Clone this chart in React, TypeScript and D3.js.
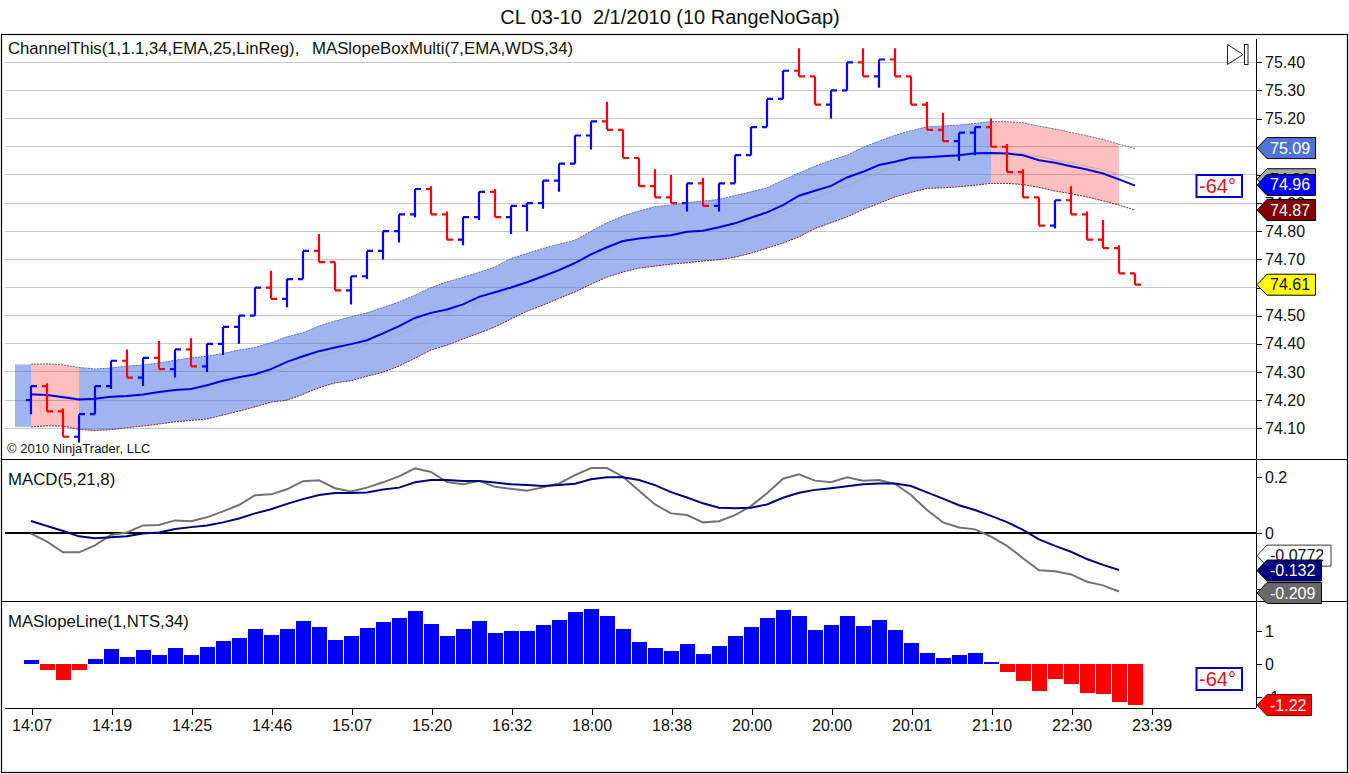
import * as d3 from 'd3';
import React, { useEffect, useRef } from 'react';

const W = 1349;
const H = 774;
const FONT = '"Liberation Sans", Arial, sans-serif';

const timeLabels = ['14:07', '14:19', '14:25', '14:46', '15:07', '15:20', '16:32', '18:00', '18:38', '20:00', '20:00', '20:01', '21:10', '22:30', '23:39'];
const priceTicks = [75.4, 75.3, 75.2, 75.1, 75.0, 74.9, 74.8, 74.7, 74.6, 74.5, 74.4, 74.3, 74.2, 74.1];
const macdTicks = [0.2, 0, -0.2];
const slopeTicks = [1, 0, -1];

const opens = [
  74.20, 74.25, 74.16, 74.07, 74.15, 74.25, 74.34, 74.28, 74.35, 74.31,
  74.38, 74.32, 74.40, 74.46, 74.50, 74.60, 74.56, 74.63, 74.73, 74.69,
  74.59, 74.64, 74.73, 74.80, 74.86, 74.95, 74.86, 74.77, 74.85, 74.94,
  74.85, 74.89, 74.90, 74.98, 75.04, 75.14, 75.19, 75.16, 75.06, 74.96,
  74.92, 74.90, 74.97, 74.89, 74.97, 75.07, 75.17, 75.27, 75.37, 75.35,
  75.25, 75.30, 75.40, 75.35, 75.41, 75.35, 75.25, 75.16, 75.12, 75.15,
  75.17, 75.10, 75.01, 74.92, 74.82, 74.91, 74.86, 74.77, 74.74, 74.65
];
const highs = [
  74.25, 74.26, 74.17, 74.15, 74.25, 74.34, 74.38, 74.35, 74.41, 74.38,
  74.42, 74.40, 74.46, 74.50, 74.60, 74.66, 74.63, 74.73, 74.79, 74.69,
  74.64, 74.73, 74.80, 74.86, 74.95, 74.96, 74.87, 74.85, 74.94, 74.95,
  74.89, 74.90, 74.98, 75.04, 75.14, 75.19, 75.26, 75.16, 75.06, 75.02,
  75.00, 74.97, 74.99, 74.97, 75.07, 75.17, 75.27, 75.37, 75.45, 75.35,
  75.30, 75.40, 75.45, 75.41, 75.45, 75.35, 75.26, 75.22, 75.15, 75.17,
  75.20, 75.11, 75.02, 74.92, 74.91, 74.96, 74.87, 74.84, 74.75, 74.65
];
const lows = [
  74.15, 74.16, 74.07, 74.05, 74.15, 74.24, 74.28, 74.25, 74.31, 74.28,
  74.32, 74.30, 74.36, 74.40, 74.50, 74.56, 74.53, 74.63, 74.69, 74.59,
  74.54, 74.63, 74.70, 74.76, 74.85, 74.86, 74.77, 74.75, 74.84, 74.85,
  74.79, 74.80, 74.88, 74.94, 75.04, 75.09, 75.16, 75.06, 74.96, 74.92,
  74.90, 74.87, 74.89, 74.87, 74.97, 75.07, 75.17, 75.27, 75.35, 75.25,
  75.20, 75.30, 75.35, 75.31, 75.35, 75.25, 75.16, 75.12, 75.05, 75.07,
  75.10, 75.01, 74.92, 74.82, 74.81, 74.86, 74.77, 74.74, 74.65, 74.61
];
const closes = [
  74.25, 74.16, 74.07, 74.15, 74.25, 74.34, 74.28, 74.35, 74.31, 74.38,
  74.32, 74.40, 74.46, 74.50, 74.60, 74.56, 74.63, 74.73, 74.69, 74.59,
  74.64, 74.73, 74.80, 74.86, 74.95, 74.86, 74.77, 74.85, 74.94, 74.85,
  74.89, 74.90, 74.98, 75.04, 75.14, 75.19, 75.16, 75.06, 74.96, 74.92,
  74.90, 74.97, 74.89, 74.97, 75.07, 75.17, 75.27, 75.37, 75.35, 75.25,
  75.30, 75.40, 75.35, 75.41, 75.35, 75.25, 75.16, 75.12, 75.15, 75.17,
  75.10, 75.01, 74.92, 74.82, 74.91, 74.86, 74.77, 74.74, 74.65, 74.61
];

// EMA line and channel edges
const midLine = [
  74.221, 74.218, 74.21, 74.202, 74.205, 74.212, 74.215, 74.22, 74.229, 74.236,
  74.24, 74.253, 74.269, 74.281, 74.292, 74.31, 74.336, 74.356, 74.374, 74.387,
  74.399, 74.413, 74.437, 74.463, 74.492, 74.51, 74.522, 74.54, 74.567, 74.583,
  74.60, 74.619, 74.64, 74.662, 74.687, 74.718, 74.743, 74.765, 74.774, 74.78,
  74.786, 74.798, 74.802, 74.814, 74.828, 74.848, 74.867, 74.893, 74.926, 74.944,
  74.961, 74.991, 75.011, 75.035, 75.047, 75.061, 75.063, 75.066, 75.07, 75.077,
  75.078, 75.076, 75.07, 75.052, 75.043, 75.031, 75.019, 75.005, 74.984, 74.962
];
const upperBand = [
  74.327, 74.329, 74.325, 74.316, 74.311, 74.314, 74.321, 74.325, 74.332, 74.342,
  74.35, 74.356, 74.366, 74.378, 74.387, 74.404, 74.425, 74.439, 74.463, 74.481,
  74.496, 74.51, 74.529, 74.549, 74.573, 74.6, 74.62, 74.636, 74.654, 74.673,
  74.703, 74.721, 74.739, 74.754, 74.768, 74.80, 74.83, 74.854, 74.872, 74.887,
  74.893, 74.901, 74.907, 74.913, 74.927, 74.94, 74.954, 74.981, 75.007, 75.031,
  75.052, 75.07, 75.098, 75.12, 75.141, 75.157, 75.171, 75.174, 75.177, 75.183,
  75.189, 75.189, 75.185, 75.173, 75.163, 75.151, 75.139, 75.126, 75.109, 75.094
];
const lowerBand = [
  74.105, 74.109, 74.108, 74.096, 74.092, 74.095, 74.102, 74.108, 74.115, 74.123,
  74.128, 74.133, 74.147, 74.161, 74.176, 74.193, 74.20, 74.221, 74.244, 74.261,
  74.269, 74.285, 74.299, 74.321, 74.349, 74.378, 74.395, 74.417, 74.438, 74.46,
  74.488, 74.516, 74.537, 74.562, 74.584, 74.612, 74.637, 74.655, 74.669, 74.676,
  74.683, 74.688, 74.694, 74.699, 74.708, 74.722, 74.74, 74.758, 74.78, 74.81,
  74.83, 74.851, 74.877, 74.899, 74.922, 74.938, 74.952, 74.954, 74.958, 74.963,
  74.97, 74.97, 74.966, 74.956, 74.943, 74.933, 74.922, 74.908, 74.893, 74.875
];

const macdLine = [
  0.043, 0.025, 0.007, -0.012, -0.019, -0.015, -0.012, -0.002, 0.002, 0.014,
  0.021, 0.027, 0.038, 0.052, 0.07, 0.085, 0.104, 0.121, 0.136, 0.143,
  0.143, 0.145, 0.155, 0.162, 0.181, 0.189, 0.189, 0.186, 0.186, 0.18,
  0.174, 0.171, 0.168, 0.171, 0.176, 0.192, 0.199, 0.199, 0.189, 0.171,
  0.146, 0.127, 0.106, 0.09, 0.088, 0.09, 0.102, 0.126, 0.144, 0.154,
  0.16, 0.167, 0.174, 0.177, 0.177, 0.168, 0.145, 0.123, 0.099, 0.082,
  0.061, 0.039, 0.011, -0.023, -0.046, -0.067, -0.093, -0.114, -0.132
];
const macdGray = [
  -0.002, -0.031, -0.069, -0.069, -0.044, -0.007, 0.002, 0.027, 0.029, 0.045,
  0.042, 0.056, 0.077, 0.1, 0.135, 0.138, 0.156, 0.185, 0.188, 0.16,
  0.148, 0.162, 0.181, 0.202, 0.231, 0.218, 0.182, 0.174, 0.186, 0.165,
  0.158, 0.151, 0.163, 0.177, 0.207, 0.232, 0.232, 0.201, 0.151, 0.102,
  0.07, 0.064, 0.038, 0.042, 0.064, 0.096, 0.142, 0.194, 0.21, 0.187,
  0.181, 0.199, 0.187, 0.189, 0.175, 0.136, 0.082, 0.038, 0.02, 0.013,
  -0.013, -0.046, -0.09, -0.133, -0.137, -0.148, -0.174, -0.187, -0.209
];

const slopeValues = [
  0.12, -0.18, -0.48, -0.18, 0.15, 0.45, 0.21, 0.42, 0.27, 0.48,
  0.27, 0.51, 0.69, 0.78, 1.05, 0.87, 1.05, 1.29, 1.11, 0.72,
  0.84, 1.08, 1.26, 1.38, 1.59, 1.2, 0.84, 1.05, 1.29, 0.93,
  0.99, 0.99, 1.17, 1.32, 1.56, 1.65, 1.44, 1.05, 0.66, 0.48,
  0.39, 0.6, 0.3, 0.54, 0.84, 1.11, 1.38, 1.62, 1.44, 1.02,
  1.17, 1.44, 1.14, 1.32, 1.02, 0.63, 0.33, 0.18, 0.27, 0.33,
  0.06, -0.24, -0.51, -0.81, -0.45, -0.6, -0.87, -0.9, -1.14, -1.22
];

const App: React.FC = () => {
  const svgRef = useRef<SVGSVGElement>(null);

  useEffect(() => {
    const svg = d3.select(svgRef.current);
    svg.selectAll('*').remove();
    svg.attr('font-family', FONT);

    const AXIS_X = 1256;
    const x = d3.scaleLinear().domain([0, 69]).range([31, 1135]);
    const yPrice = d3.scaleLinear().domain([74.1, 75.4]).range([428.3, 62.3]);
    const yMacd = d3.scaleLinear().domain([-0.2, 0.2]).range([589, 477]);
    const ySlope = d3.scaleLinear().domain([-1, 1]).range([697.3, 631]);

    const text = (tx: number, ty: number, s: string, size = 16, anchor = 'start', fill = '#111') =>
      svg.append('text').attr('x', tx).attr('y', ty).attr('font-size', size)
        .attr('text-anchor', anchor).attr('fill', fill).style('white-space', 'pre').text(s);

    // price grid
    svg.append('g').selectAll('line').data(priceTicks).join('line')
      .attr('x1', 5).attr('x2', AXIS_X)
      .attr('y1', (d) => yPrice(d)).attr('y2', (d) => yPrice(d))
      .attr('stroke', '#c8c8c8').attr('shape-rendering', 'crispEdges');

    // MASlopeBoxMulti fill, one piece per bar ending on that bar
    const boxArea = d3.area<number>()
      .x((i) => x(i))
      .y0((i) => yPrice(lowerBand[Math.max(i, 0)]))
      .y1((i) => yPrice(upperBand[Math.max(i, 0)]));
    svg.append('g').selectAll('path').data(d3.range(0, 69)).join('path')
      .attr('d', (i) => boxArea([i - 1, i]))
      .attr('fill', (i) => (slopeValues[i] < 0 ? '#ff0000' : '#4169e1'))
      .attr('fill-opacity', (i) => (slopeValues[i] < 0 ? 0.25 : 0.5));

    const priceLine = d3.line<number>().x((_d, i) => x(i)).y((d) => yPrice(d));
    const channelCentre = upperBand.map((u, i) => (u + lowerBand[i]) / 2);
    svg.append('path').attr('d', priceLine(channelCentre)).attr('fill', 'none')
      .attr('stroke', '#a8a8b4').attr('stroke-width', 1).attr('stroke-opacity', 0.75);
    svg.append('path').attr('d', priceLine(upperBand)).attr('fill', 'none')
      .attr('stroke', '#5c6fb4').attr('stroke-width', 1).attr('stroke-dasharray', '2,1');
    svg.append('path').attr('d', priceLine(lowerBand)).attr('fill', 'none')
      .attr('stroke', '#8a2030').attr('stroke-width', 1).attr('stroke-dasharray', '2,1');
    svg.append('path').attr('d', priceLine(midLine)).attr('fill', 'none')
      .attr('stroke', '#0000e6').attr('stroke-width', 2);

    // OHLC bars
    const bars = svg.append('g').selectAll('path').data(d3.range(opens.length)).join('path')
      .attr('fill', 'none').attr('stroke-width', 2.2)
      .attr('stroke', (i) => (closes[i] >= opens[i] ? '#0000ff' : '#ff0000'));
    bars.attr('d', (i) => {
      const p = d3.path();
      const bx = x(i);
      p.moveTo(bx, yPrice(highs[i]));
      p.lineTo(bx, yPrice(lows[i]));
      p.moveTo(bx - 5, yPrice(opens[i]));
      p.lineTo(bx, yPrice(opens[i]));
      p.moveTo(bx, yPrice(closes[i]));
      p.lineTo(bx + 6, yPrice(closes[i]));
      return p.toString();
    });

    // MACD panel
    svg.append('line').attr('x1', 5).attr('x2', AXIS_X).attr('y1', yMacd(0)).attr('y2', yMacd(0))
      .attr('stroke', '#000').attr('stroke-width', 2);
    const macdPath = d3.line<number>().x((_d, i) => x(i)).y((d) => yMacd(d));
    svg.append('path').attr('d', macdPath(macdGray)).attr('fill', 'none')
      .attr('stroke', '#737373').attr('stroke-width', 2);
    svg.append('path').attr('d', macdPath(macdLine)).attr('fill', 'none')
      .attr('stroke', '#000080').attr('stroke-width', 2);

    // slope histogram
    svg.append('g').selectAll('rect').data(slopeValues).join('rect')
      .attr('x', (_d, i) => x(i) - 7)
      .attr('width', 15)
      .attr('y', (d) => Math.min(ySlope(d), ySlope(0)))
      .attr('height', (d) => Math.abs(ySlope(d) - ySlope(0)))
      .attr('fill', (d) => (d < 0 ? '#ff0000' : '#0000ff'))
      .attr('shape-rendering', 'crispEdges');

    // frame and panel dividers
    svg.append('rect').attr('x', 1.5).attr('y', 34.5).attr('width', 1346).attr('height', 738)
      .attr('fill', 'none').attr('stroke', '#000').attr('stroke-width', 1.2);
    [459.5, 601.5].forEach((ly) => {
      svg.append('line').attr('x1', 1).attr('x2', 1348).attr('y1', ly).attr('y2', ly).attr('stroke', '#000');
    });
    svg.append('line').attr('x1', AXIS_X + 0.5).attr('x2', AXIS_X + 0.5).attr('y1', 39).attr('y2', 708)
      .attr('stroke', '#000');

    // value axes
    const styleAxis = (g: d3.Selection<SVGGElement, unknown, null, undefined>) => {
      g.attr('font-family', FONT).attr('font-size', 16);
      g.select('.domain').remove();
      g.selectAll('.tick line').attr('stroke', '#000').attr('shape-rendering', 'crispEdges');
      g.selectAll('.tick text').attr('fill', '#111');
    };
    svg.append('g').attr('transform', `translate(${AXIS_X},0)`)
      .call(d3.axisRight(yPrice).tickValues(priceTicks).tickSize(6).tickPadding(3).tickFormat((d) => d3.format('.2f')(d as number)))
      .call(styleAxis);
    svg.append('g').attr('transform', `translate(${AXIS_X},0)`)
      .call(d3.axisRight(yMacd).tickValues(macdTicks).tickSize(6).tickPadding(3).tickFormat((d) => String(d)))
      .call(styleAxis);
    svg.append('g').attr('transform', `translate(${AXIS_X},0)`)
      .call(d3.axisRight(ySlope).tickValues(slopeTicks).tickSize(6).tickPadding(3).tickFormat((d) => String(d)))
      .call(styleAxis);

    // time axis
    const xTime = d3.scalePoint<string>().domain(timeLabels.map((_d, i) => String(i))).range([x(0) + 0.5, x(70) + 0.5]);
    const timeAxis = d3.axisBottom(xTime).tickSize(7).tickPadding(5)
      .tickFormat((d) => timeLabels[Number(d)]);
    svg.append('line').attr('x1', 5).attr('x2', AXIS_X).attr('y1', 708.5).attr('y2', 708.5).attr('stroke', '#000');
    svg.append('g').attr('transform', 'translate(0,708)').call(timeAxis).call(styleAxis);

    // value tags on the right
    const tag = (cy: number, label: string, fill: string, ink: string, right: number, border = '#000') => {
      const left = AXIS_X + 1;
      const p = d3.path();
      p.moveTo(left, cy);
      p.lineTo(left + 10, cy - 10.5);
      p.lineTo(right, cy - 10.5);
      p.lineTo(right, cy + 10.5);
      p.lineTo(left + 10, cy + 10.5);
      p.closePath();
      svg.append('path').attr('d', p.toString()).attr('fill', fill).attr('stroke', border);
      text(left + 13, cy + 5.5, label, 16, 'start', ink);
    };
    const PRICE_RIGHT = 1315.5;
    tag(yPrice(74.98) - 1.3, '74.98', '#a9a9a9', '#111', PRICE_RIGHT);
    tag(yPrice(75.09) - 1.5, '75.09', '#4f72db', '#fff', PRICE_RIGHT);
    tag(yPrice(74.96) - 1.2, '74.96', '#0000ff', '#fff', PRICE_RIGHT);
    tag(yPrice(74.87) - 1.5, '74.87', '#800000', '#fff', PRICE_RIGHT);
    tag(yPrice(74.61), '74.61', '#ffff00', '#111', PRICE_RIGHT);
    tag(yMacd(-0.0772) + 1, '-0.0772', '#ffffff', '#111', 1331, '#333');
    tag(yMacd(-0.132) + 0.6, '-0.132', '#000080', '#fff', 1321.5);
    tag(yMacd(-0.209) + 1.5, '-0.209', '#696969', '#fff', 1321.5);
    tag(ySlope(-1.22) + 0.5, '-1.22', '#ff0000', '#fff', 1311.5, '#600000');

    // slope angle boxes
    [186, 679].forEach((cy) => {
      svg.append('rect').attr('x', 1196.5).attr('y', cy - 11).attr('width', 45.5).attr('height', 22)
        .attr('fill', '#fff').attr('stroke', '#0000d0').attr('stroke-width', 2);
      text(1217.5, cy + 7, '-64°', 20, 'middle', '#e8101a');
    });

    // chart-trader arrow
    svg.append('path').attr('d', 'M1227.5,44.5L1243,54.5L1227.5,64.5Z').attr('fill', '#fff').attr('stroke', '#222');
    svg.append('rect').attr('x', 1244.5).attr('y', 44.5).attr('width', 3.5).attr('height', 20).attr('fill', '#fff').attr('stroke', '#222');

    // captions
    text(670, 24, 'CL 03-10  2/1/2010 (10 RangeNoGap)', 20, 'middle');
    text(8, 54, 'ChannelThis(1,1.1,34,EMA,25,LinReg),', 16.7);
    text(312, 54, 'MASlopeBoxMulti(7,EMA,WDS,34)', 16.8);
    text(7, 453, '© 2010 NinjaTrader, LLC', 13);
    text(8, 485, 'MACD(5,21,8)', 16.8);
    text(8, 627, 'MASlopeLine(1,NTS,34)', 16.7);
  }, []);

  return (
    <svg
      ref={svgRef}
      width={W}
      height={H}
      viewBox={`0 0 ${W} ${H}`}
      style={{ position: 'absolute', left: 0, top: 0, background: '#fff' }}
    />
  );
};

export default App;
